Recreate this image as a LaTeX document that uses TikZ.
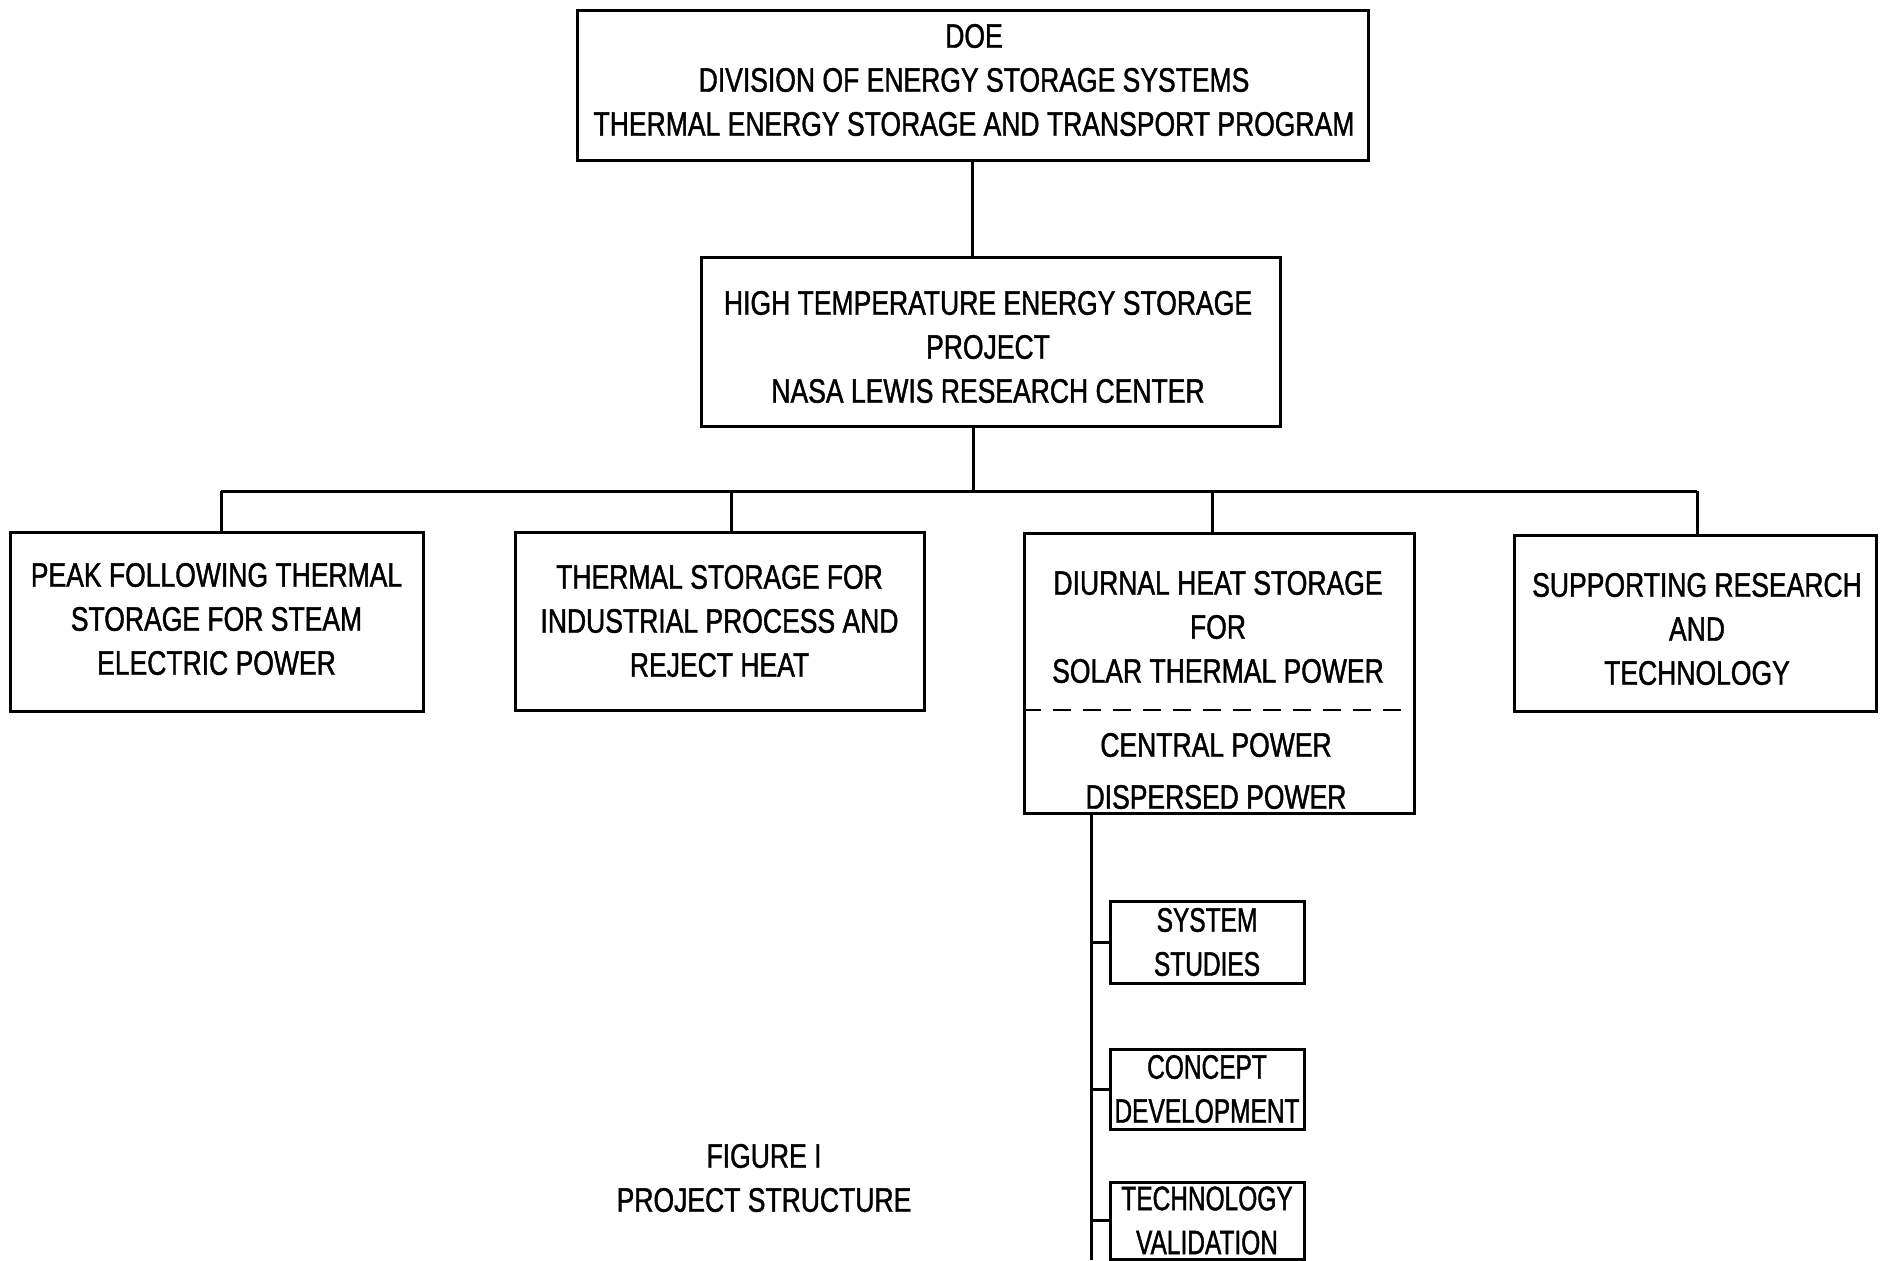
\documentclass[tikz,border=0pt]{standalone}
\usepackage{fontspec}
\setmainfont[FakeStretch=0.78,FakeBold=1.2]{Liberation Sans}
\newfontfamily\narrowfont[FakeStretch=0.72,FakeBold=1.2]{Liberation Sans}
\begin{document}
\begin{tikzpicture}[x=0.5pt,y=-0.5pt,
  box/.style={draw,line width=1.5pt,inner sep=0pt,align=center,font=\fontsize{17}{22}\selectfont},
  txt/.style={inner sep=0pt,align=center,font=\fontsize{17}{22}\selectfont},
  small/.style={box,minimum width=97pt,font=\narrowfont\fontsize{17}{22}\selectfont},
  conn/.style={line width=1.5pt}]
\useasboundingbox[fill=white] (0,0) rectangle (1886,1260);
% top
\node[box,minimum width=395.5pt,minimum height=75pt] (doe) at (972.5,85) {};
\node[txt] (doet) at (974,80)
  {DOE\\DIVISION OF ENERGY STORAGE SYSTEMS\\THERMAL ENERGY STORAGE AND TRANSPORT PROGRAM};
\node[box,minimum width=289.5pt,minimum height=84.5pt] (hte) at (990.5,341.5) {};
\node[txt] (htet) at (988,347)
  {HIGH TEMPERATURE ENERGY STORAGE\\PROJECT\\NASA LEWIS RESEARCH CENTER};
\draw[conn] (doe.south) -- (doe.south |- hte.north);
% second level
\node[box,minimum width=206.5pt,minimum height=89.5pt] (pk) at (216.5,621.5) {};
\node[txt] (pkt) at (216.5,619)
  {PEAK FOLLOWING THERMAL\\STORAGE FOR STEAM\\ELECTRIC POWER};
\node[box,minimum width=204.5pt,minimum height=89pt] (ind) at (719.5,621)
  {THERMAL STORAGE FOR\\INDUSTRIAL PROCESS AND\\REJECT HEAT};
\node[box,minimum width=195pt,minimum height=140pt] (sol) at (1219,673) {};
\node[txt] (solt) at (1218,627) {DIURNAL HEAT STORAGE\\FOR\\SOLAR THERMAL POWER};
\node[txt] (solb) at (1216,771) {CENTRAL POWER\\[4pt]DISPERSED POWER};
\draw[line width=1.2pt,dash pattern=on 9pt off 6pt] (sol.west |- 0,710) -- (sol.east |- 0,710);
\node[box,minimum width=181pt,minimum height=88pt] (srt) at (1695,623) {};
\node[txt] (srtt) at (1697,629) {SUPPORTING RESEARCH\\AND\\TECHNOLOGY};
% bus
\coordinate (trunk) at (973,491);
\coordinate (busL) at (221,491);
\coordinate (busR) at (1697,491);
\draw[conn] (hte.south -| trunk) -- (trunk);
\draw[conn] (busL) -- (busR);
\draw[conn] (busL) -- (busL |- pk.north);
\draw[conn] (731,491) -- (731,491 |- ind.north);
\draw[conn] (1212,491) -- (1212,491 |- sol.north);
\draw[conn] (busR) -- (busR |- srt.north);
% sub tasks
\node[small,minimum height=41pt] (ss) at (1207,942) {SYSTEM\\STUDIES};
\node[small,minimum height=40pt] (cd) at (1207,1089) {CONCEPT\\DEVELOPMENT};
\node[small,minimum height=38.5pt] (tv) at (1207,1220.5) {TECHNOLOGY\\VALIDATION};
\coordinate (vtop) at (1091,813);
\coordinate (vend) at (1091,1260);
\draw[conn] (vtop) -- (vend);
\draw[conn] (vtop |- ss.west) -- (ss.west);
\draw[conn] (vtop |- cd.west) -- (cd.west);
\draw[conn] (vtop |- tv.west) -- (tv.west);
% caption
\node[txt] (cap) at (764,1178) {FIGURE I\\PROJECT STRUCTURE};
\end{tikzpicture}
\end{document}
